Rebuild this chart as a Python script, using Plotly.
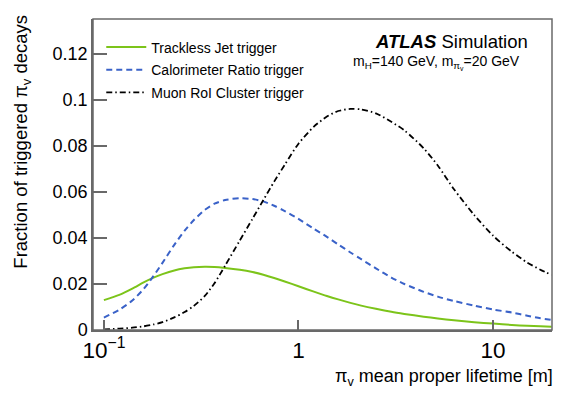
import plotly.graph_objects as go

lifetime = [0.1, 0.12, 0.14, 0.16, 0.18, 0.2, 0.23, 0.26, 0.29, 0.33, 0.37, 0.42, 0.5, 0.58,
            0.66, 0.75, 0.85, 1.0, 1.2, 1.4, 1.6, 1.85, 2.1, 2.5, 3.0, 3.5, 4.4, 5.2, 6.3,
            8.0, 10, 12.5, 15, 17.5, 20]

trackless = [0.0130, 0.0153, 0.0180, 0.0207, 0.0228, 0.0243, 0.0259, 0.0268, 0.0273, 0.0275,
             0.0274, 0.0270, 0.0262, 0.0252, 0.0240, 0.0226, 0.0211, 0.0190, 0.0167, 0.0148,
             0.0133, 0.0118, 0.0106, 0.0092, 0.0079, 0.0070, 0.0058, 0.0050, 0.0042,
             0.0034, 0.0028, 0.0022, 0.0018, 0.0016, 0.0014]

calratio = [0.0054, 0.0088, 0.0128, 0.0178, 0.0235, 0.0292, 0.0370, 0.0432, 0.0478, 0.0522,
            0.0549, 0.0565, 0.0573, 0.0569, 0.0559, 0.0540, 0.0517, 0.0483, 0.0440, 0.0405,
            0.0372, 0.0337, 0.0308, 0.0268, 0.0228, 0.0200, 0.0166, 0.0145, 0.0126,
            0.0106, 0.0089, 0.0076, 0.0062, 0.0051, 0.0044]

muonroi = [0.0003, 0.0006, 0.0010, 0.0016, 0.0024, 0.0034, 0.0055, 0.0078, 0.0105, 0.0148,
           0.0203, 0.0280, 0.0390, 0.0483, 0.0565, 0.0645, 0.0718, 0.0810, 0.0884, 0.0928,
           0.0952, 0.0961, 0.0959, 0.0942, 0.0905, 0.0868, 0.0790, 0.0715, 0.0612,
           0.0500, 0.0410, 0.0340, 0.0293, 0.0262, 0.0239]

series_names = ["Trackless Jet trigger", "Calorimeter Ratio trigger", "Muon RoI Cluster trigger"]

FONT = "Liberation Sans, Arial, Helvetica, sans-serif"
AXC = "dimgray"

fig = go.Figure()
styles = [
    dict(color="#7cc41a", width=2, dash="solid"),
    dict(color="#3a62c8", width=2, dash="6px,4px"),
    dict(color="#000000", width=1.8, dash="6px,3px,1.5px,3px"),
]
for i, (name, ys) in enumerate(zip(series_names, [trackless, calratio, muonroi])):
    fig.add_trace(go.Scatter(x=lifetime, y=ys, mode="lines", name=name,
                             line=dict(shape="spline", smoothing=0.7, **styles[i]),
                             legendgroup=f"g{i}"))

fig.update_layout(
    width=581, height=394,
    margin=dict(l=93, r=29, t=19, b=64),
    paper_bgcolor="white", plot_bgcolor="rgba(0,0,0,0)",
    font=dict(family=FONT, color="black", size=14),
    showlegend=True,
    legend=dict(x=0.018, y=0.96, xanchor="left", yanchor="top",
                bgcolor="rgba(0,0,0,0)", font=dict(size=14, family=FONT),
                tracegroupgap=1.5, traceorder="grouped", itemwidth=40),
)

fig.update_xaxes(
    type="log", range=[-1.056, 1.303],
    tickmode="linear", tick0=0, dtick=1, exponentformat="power",
    ticks="inside", ticklen=10, tickwidth=2, tickcolor=AXC,
    showline=True, linecolor=AXC, linewidth=1.5,
    showgrid=False, zeroline=False,
    tickfont=dict(size=18, family=FONT, color="black"),
)
fig.update_yaxes(
    range=[0, 0.1352],
    tickmode="linear", tick0=0, dtick=0.02,
    ticks="inside", ticklen=14, tickwidth=2, tickcolor=AXC,
    showline=True, linecolor=AXC, linewidth=1.5,
    showgrid=False, zeroline=False,
    tickfont=dict(size=18, family=FONT, color="black"),
)

# plot frame
fig.add_shape(type="rect", xref="paper", yref="paper", x0=0, y0=0, x1=1, y1=1,
              line=dict(color=AXC, width=1.5), fillcolor="rgba(0,0,0,0)", layer="above")

fig.add_annotation(xref="paper", yref="paper", x=-0.155, y=1.02, xanchor="center", yanchor="top",
                   text="Fraction of triggered π<sub>v</sub> decays", textangle=-90,
                   showarrow=False, font=dict(size=18.5, family=FONT))
fig.add_annotation(xref="paper", yref="paper", x=1.0, y=-0.154, xanchor="right", yanchor="middle",
                   xshift=3,
                   text="π<sub>v</sub> mean proper lifetime [m]",
                   showarrow=False, font=dict(size=18, family=FONT))
fig.add_annotation(xref="paper", yref="paper", x=0.952, y=0.929, xanchor="right", yanchor="middle",
                   text="<b><i>ATLAS</i></b> Simulation",
                   showarrow=False, font=dict(size=18.5, family=FONT))
fig.add_annotation(xref="paper", yref="paper", x=0.935, y=0.859, xanchor="right", yanchor="middle",
                   text="m<sub>H</sub>=140 GeV, m<sub>π<sub>v</sub></sub>=20 GeV",
                   showarrow=False, font=dict(size=14, family=FONT))

fig.write_html("out.html", post_script="document.body.style.margin='0';",
               config={"displayModeBar": False})
